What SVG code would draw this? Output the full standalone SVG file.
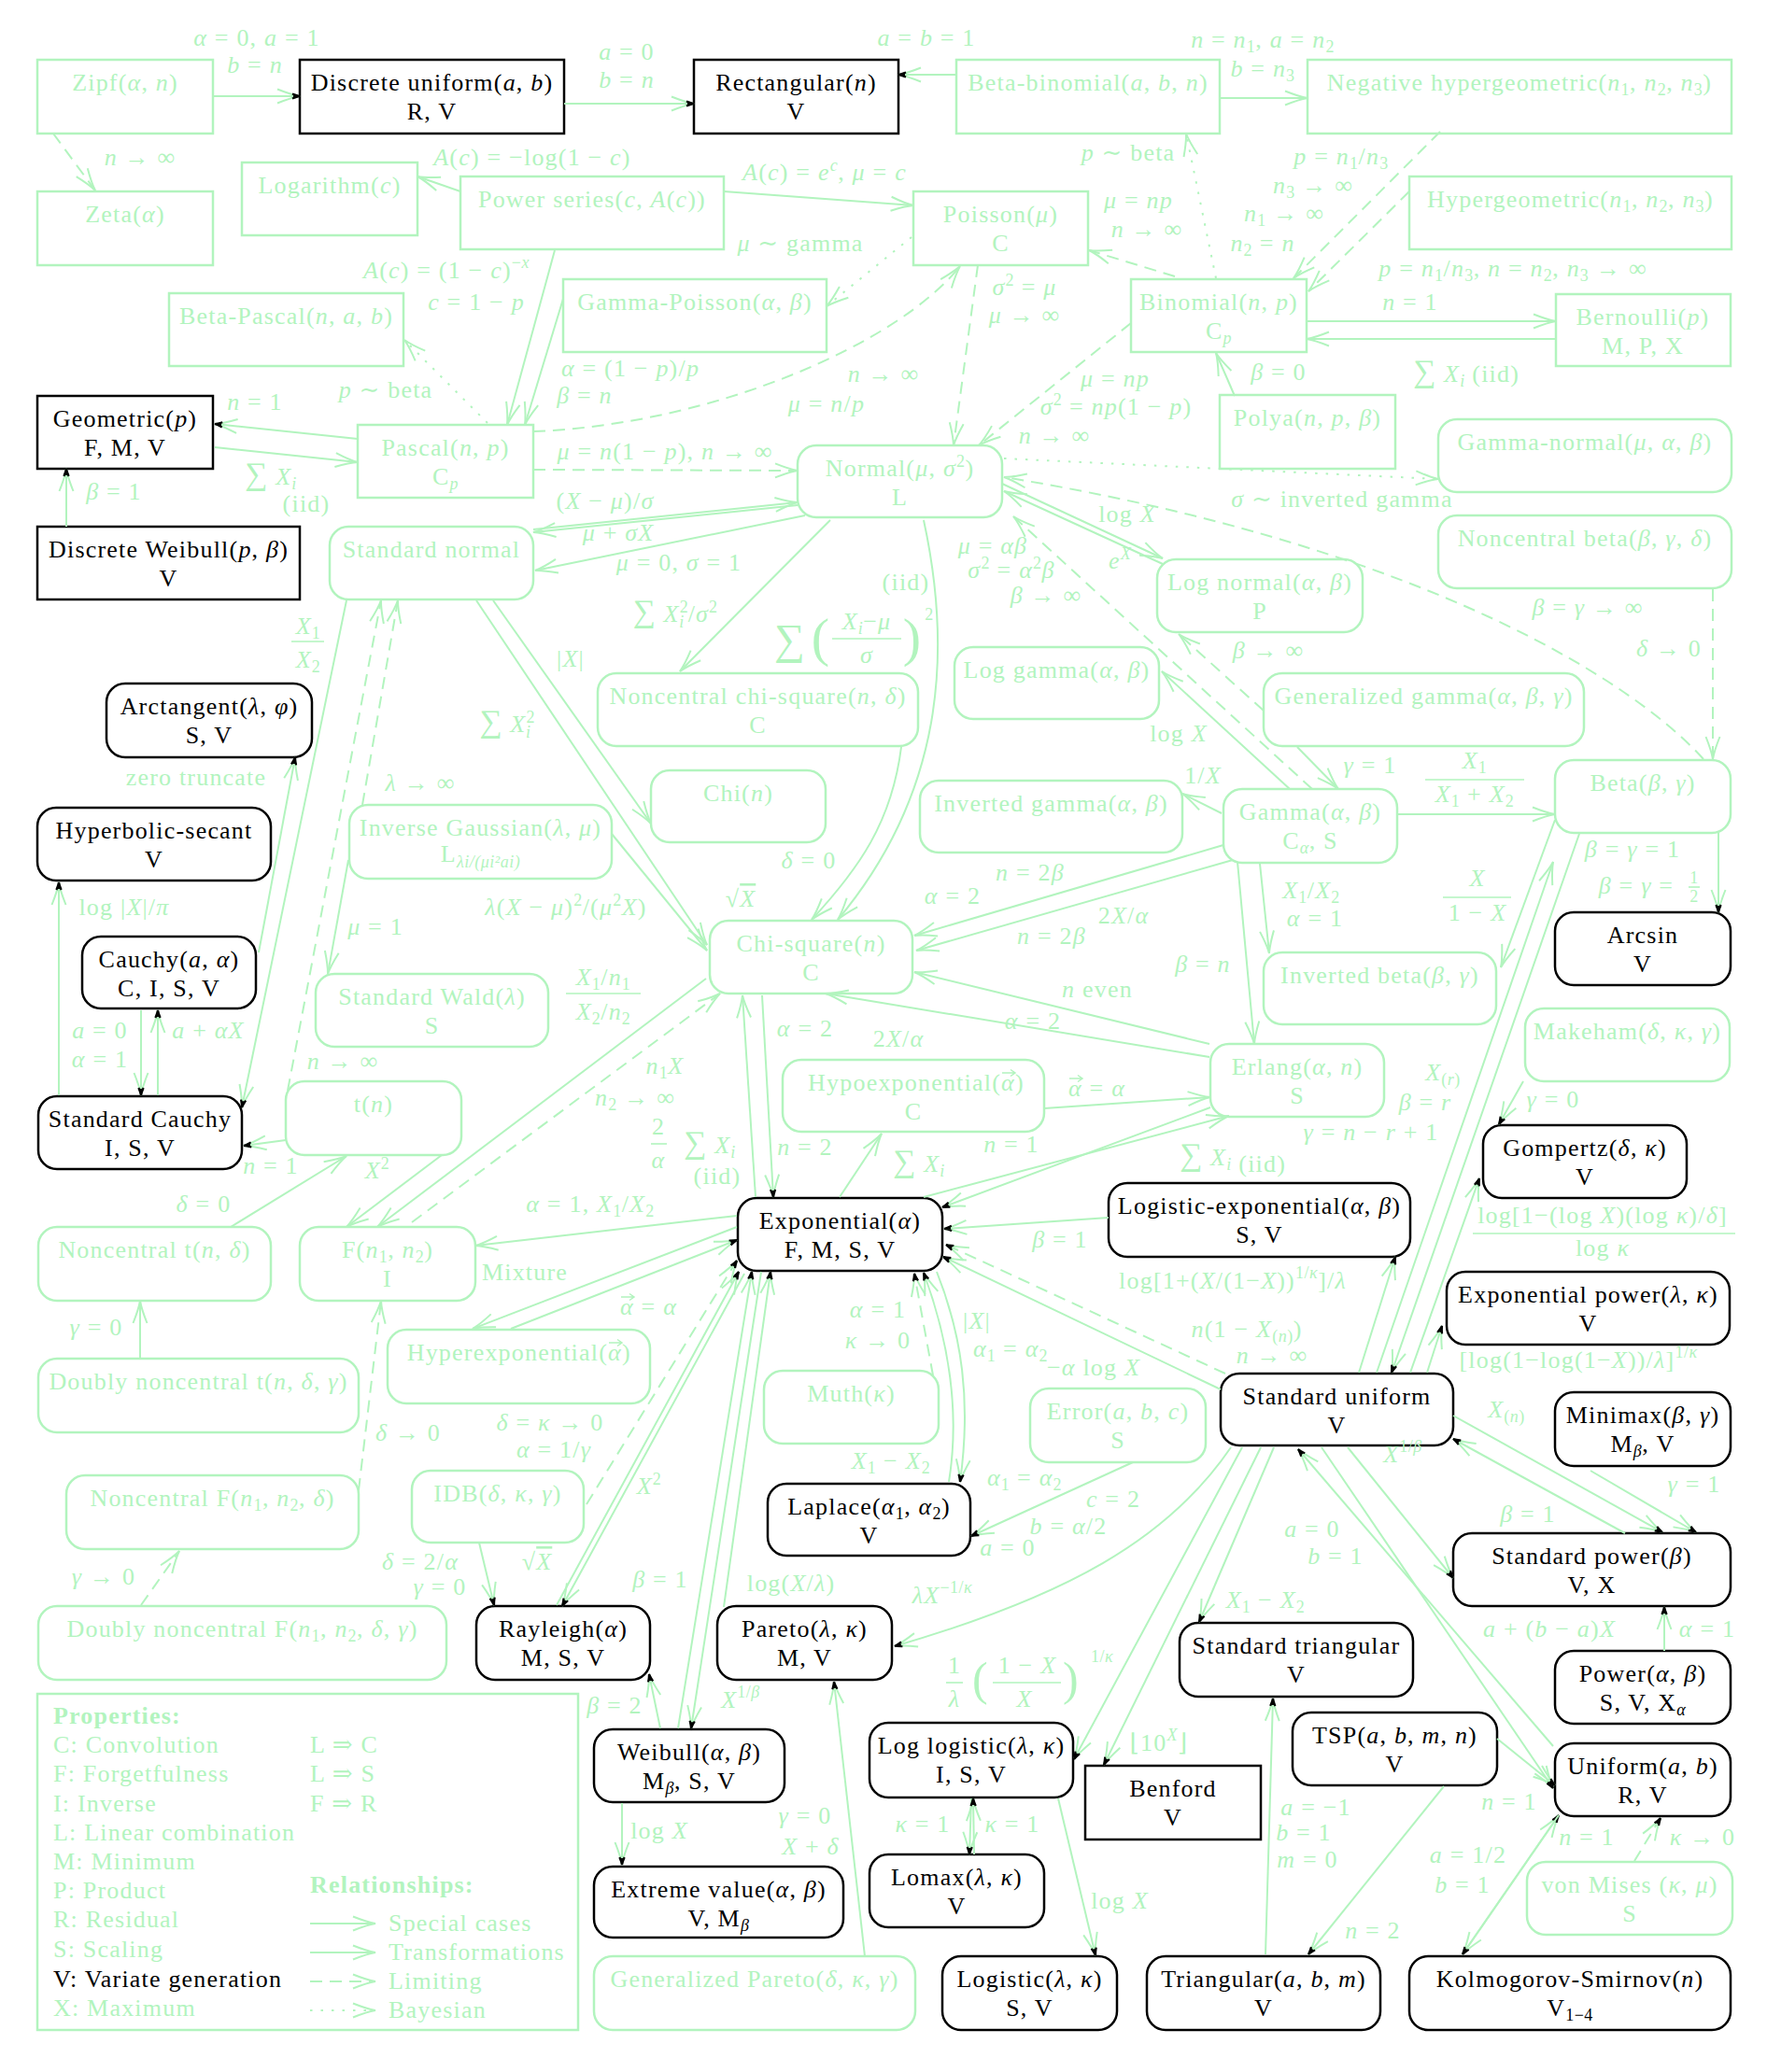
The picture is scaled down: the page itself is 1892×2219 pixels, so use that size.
<svg xmlns="http://www.w3.org/2000/svg" width="1892" height="2219" viewBox="0 0 1892 2219">
<defs>
<style>
.n{fill:none;stroke:#b2f4be;stroke-width:2.5}
.nk{fill:none;stroke:#000;stroke-width:2.5}
.e path{fill:none;stroke:#b2f4be;stroke-width:2;marker-end:url(#ag)}
.e path.k{marker-end:url(#ak)}
.e path.d{stroke-dasharray:13 8}
.e path.o{stroke-dasharray:2.5 9}
text{font-family:"Liberation Serif","Times New Roman","DejaVu Serif",serif;font-size:26px;letter-spacing:1.2px}
.G{fill:#b2f4be}
.K{fill:#000}
.m{text-anchor:middle}
.st{text-anchor:start}
.en{text-anchor:end}
.i{font-style:italic}
.s{font-size:18px;letter-spacing:0.5px}
.b{font-weight:bold}
.fr{stroke:#b2f4be;stroke-width:1.6}
.vec{fill:none;stroke:#b2f4be;stroke-width:1.5}
</style>
<marker id="ag" markerUnits="userSpaceOnUse" orient="auto" markerWidth="30" markerHeight="20" viewBox="-27 -10 30 20" refX="0" refY="0" overflow="visible">
<path d="M-24,-7.5 Q-9,-1.5 0,0 Q-9,1.5 -24,7.5" fill="none" stroke="#b2f4be" stroke-width="2"/>
</marker>
<marker id="ak" markerUnits="userSpaceOnUse" orient="auto" markerWidth="30" markerHeight="20" viewBox="-27 -10 30 20" refX="0" refY="0" overflow="visible">
<path d="M-24,-7.5 Q-9,-1.5 0,0 Q-9,1.5 -24,7.5" fill="none" stroke="#b2f4be" stroke-width="2"/>
<path d="M-8,-2.6 Q-3,-0.6 0,0 Q-3,0.6 -8,2.6 M-7,0 L0,0" fill="none" stroke="#000" stroke-width="2.2"/>
</marker>
</defs>
<rect x="0" y="0" width="1892" height="2219" fill="#fff"/>

<!-- discrete distributions (square boxes) -->
<g id="zipf"><rect class="n" x="40" y="64" width="188" height="79"/><text class="G m" x="134" y="97">Zipf(<tspan class="i">α</tspan>, <tspan class="i">n</tspan>)</text></g>
<g id="discrete-uniform"><rect class="nk" x="321" y="64" width="283" height="79"/><text class="K m" x="462.5" y="97">Discrete uniform(<tspan class="i">a</tspan>, <tspan class="i">b</tspan>)</text><text class="K m" x="462.5" y="128">R, V</text></g>
<g id="rectangular"><rect class="nk" x="743" y="64" width="219" height="79"/><text class="K m" x="852.5" y="97">Rectangular(<tspan class="i">n</tspan>)</text><text class="K m" x="852.5" y="128">V</text></g>
<g id="beta-binomial"><rect class="n" x="1024" y="64" width="282" height="79"/><text class="G m" x="1165" y="97">Beta-binomial(<tspan class="i">a</tspan>, <tspan class="i">b</tspan>, <tspan class="i">n</tspan>)</text></g>
<g id="neg-hypergeometric"><rect class="n" x="1400" y="64" width="454" height="79"/><text class="G m" x="1627" y="97">Negative hypergeometric(<tspan class="i">n</tspan><tspan class="s" dy="5">1</tspan><tspan dy="-5">, </tspan><tspan class="i">n</tspan><tspan class="s" dy="5">2</tspan><tspan dy="-5">, </tspan><tspan class="i">n</tspan><tspan class="s" dy="5">3</tspan><tspan dy="-5">)</tspan></text></g>
<g id="zeta"><rect class="n" x="40" y="205" width="188" height="79"/><text class="G m" x="134" y="238">Zeta(<tspan class="i">α</tspan>)</text></g>
<g id="logarithm"><rect class="n" x="259" y="174" width="188" height="78"/><text class="G m" x="353" y="207">Logarithm(<tspan class="i">c</tspan>)</text></g>
<g id="power-series"><rect class="n" x="493" y="189" width="282" height="78"/><text class="G m" x="634" y="222">Power series(<tspan class="i">c</tspan>, <tspan class="i">A</tspan>(<tspan class="i">c</tspan>))</text></g>
<g id="poisson"><rect class="n" x="978" y="205" width="187" height="79"/><text class="G m" x="1071.5" y="238">Poisson(<tspan class="i">μ</tspan>)</text><text class="G m" x="1071.5" y="269">C</text></g>
<g id="hypergeometric"><rect class="n" x="1509" y="189" width="345" height="78"/><text class="G m" x="1681.5" y="222">Hypergeometric(<tspan class="i">n</tspan><tspan class="s" dy="5">1</tspan><tspan dy="-5">, </tspan><tspan class="i">n</tspan><tspan class="s" dy="5">2</tspan><tspan dy="-5">, </tspan><tspan class="i">n</tspan><tspan class="s" dy="5">3</tspan><tspan dy="-5">)</tspan></text></g>
<g id="beta-pascal"><rect class="n" x="181" y="314" width="251" height="78"/><text class="G m" x="306.5" y="347">Beta-Pascal(<tspan class="i">n</tspan>, <tspan class="i">a</tspan>, <tspan class="i">b</tspan>)</text></g>
<g id="gamma-poisson"><rect class="n" x="603" y="299" width="282" height="78"/><text class="G m" x="744" y="332">Gamma-Poisson(<tspan class="i">α</tspan>, <tspan class="i">β</tspan>)</text></g>
<g id="binomial"><rect class="n" x="1211" y="299" width="188" height="78"/><text class="G m" x="1305" y="332">Binomial(<tspan class="i">n</tspan>, <tspan class="i">p</tspan>)</text><text class="G m" x="1305" y="363">C<tspan class="s i" dy="5">p</tspan></text></g>
<g id="bernoulli"><rect class="n" x="1666" y="315" width="187" height="77"/><text class="G m" x="1759" y="348">Bernoulli(<tspan class="i">p</tspan>)</text><text class="G m" x="1759" y="379">M, P, X</text></g>
<g id="geometric"><rect class="nk" x="40" y="424" width="188" height="78"/><text class="K m" x="134" y="457">Geometric(<tspan class="i">p</tspan>)</text><text class="K m" x="134" y="488">F, M, V</text></g>
<g id="pascal"><rect class="n" x="383" y="455" width="188" height="78"/><text class="G m" x="477" y="488">Pascal(<tspan class="i">n</tspan>, <tspan class="i">p</tspan>)</text><text class="G m" x="477" y="519">C<tspan class="s i" dy="5">p</tspan></text></g>
<g id="polya"><rect class="n" x="1306" y="423" width="188" height="79"/><text class="G m" x="1400" y="456">Polya(<tspan class="i">n</tspan>, <tspan class="i">p</tspan>, <tspan class="i">β</tspan>)</text></g>
<g id="discrete-weibull"><rect class="nk" x="40" y="564" width="281" height="78"/><text class="K m" x="180.5" y="597">Discrete Weibull(<tspan class="i">p</tspan>, <tspan class="i">β</tspan>)</text><text class="K m" x="180.5" y="628">V</text></g>
<g id="benford"><rect class="nk" x="1162" y="1891" width="188" height="79"/><text class="K m" x="1256" y="1924">Benford</text><text class="K m" x="1256" y="1955">V</text></g>

<!-- continuous distributions (rounded boxes) -->
<g id="gamma-normal"><rect class="n" x="1540" y="449" width="314" height="78" rx="20"/><text class="G m" x="1697" y="482">Gamma-normal(<tspan class="i">μ</tspan>, <tspan class="i">α</tspan>, <tspan class="i">β</tspan>)</text></g>
<g id="normal"><rect class="n" x="854" y="477" width="219" height="77" rx="20"/><text class="G m" x="963.5" y="510">Normal(<tspan class="i">μ</tspan>, <tspan class="i">σ</tspan><tspan class="s" dy="-10">2</tspan><tspan dy="10">)</tspan></text><text class="G m" x="963.5" y="541">L</text></g>
<g id="standard-normal"><rect class="n" x="353" y="564" width="218" height="78" rx="20"/><text class="G m" x="462" y="597">Standard normal</text></g>
<g id="noncentral-beta"><rect class="n" x="1540" y="552" width="314" height="78" rx="20"/><text class="G m" x="1697" y="585">Noncentral beta(<tspan class="i">β</tspan>, <tspan class="i">γ</tspan>, <tspan class="i">δ</tspan>)</text></g>
<g id="log-normal"><rect class="n" x="1239" y="599" width="220" height="78" rx="20"/><text class="G m" x="1349" y="632">Log normal(<tspan class="i">α</tspan>, <tspan class="i">β</tspan>)</text><text class="G m" x="1349" y="663">P</text></g>
<g id="log-gamma"><rect class="n" x="1022" y="693" width="219" height="77" rx="20"/><text class="G m" x="1131.5" y="726">Log gamma(<tspan class="i">α</tspan>, <tspan class="i">β</tspan>)</text></g>
<g id="generalized-gamma"><rect class="n" x="1353" y="721" width="343" height="78" rx="20"/><text class="G m" x="1524.5" y="754">Generalized gamma(<tspan class="i">α</tspan>, <tspan class="i">β</tspan>, <tspan class="i">γ</tspan>)</text></g>
<g id="noncentral-chi-square"><rect class="n" x="640" y="721" width="343" height="78" rx="20"/><text class="G m" x="811.5" y="754">Noncentral chi-square(<tspan class="i">n</tspan>, <tspan class="i">δ</tspan>)</text><text class="G m" x="811.5" y="785">C</text></g>
<g id="arctangent"><rect class="nk" x="114" y="732" width="220" height="79" rx="20"/><text class="K m" x="224" y="765">Arctangent(<tspan class="i">λ</tspan>, <tspan class="i">φ</tspan>)</text><text class="K m" x="224" y="796">S, V</text></g>
<g id="chi"><rect class="n" x="697" y="825" width="187" height="77" rx="20"/><text class="G m" x="790.5" y="858">Chi(<tspan class="i">n</tspan>)</text></g>
<g id="inverted-gamma"><rect class="n" x="985" y="836" width="281" height="77" rx="20"/><text class="G m" x="1125.5" y="869">Inverted gamma(<tspan class="i">α</tspan>, <tspan class="i">β</tspan>)</text></g>
<g id="gamma"><rect class="n" x="1310" y="845" width="186" height="79" rx="20"/><text class="G m" x="1403" y="878">Gamma(<tspan class="i">α</tspan>, <tspan class="i">β</tspan>)</text><text class="G m" x="1403" y="909">C<tspan class="s i" dy="5">α</tspan><tspan dy="-5">, S</tspan></text></g>
<g id="beta"><rect class="n" x="1665" y="814" width="188" height="78" rx="20"/><text class="G m" x="1759" y="847">Beta(<tspan class="i">β</tspan>, <tspan class="i">γ</tspan>)</text></g>
<g id="hyperbolic-secant"><rect class="nk" x="40" y="865" width="250" height="78" rx="20"/><text class="K m" x="165" y="898">Hyperbolic-secant</text><text class="K m" x="165" y="929">V</text></g>
<g id="inverse-gaussian"><rect class="n" x="374" y="862" width="281" height="79" rx="20"/><text class="G m" x="514.5" y="895">Inverse Gaussian(<tspan class="i">λ</tspan>, <tspan class="i">μ</tspan>)</text><text class="G m" x="514.5" y="923">L<tspan class="s i" dy="6">λi/(μi²ai)</tspan></text></g>
<g id="chi-square"><rect class="n" x="760" y="986" width="217" height="78" rx="20"/><text class="G m" x="868.5" y="1019">Chi-square(<tspan class="i">n</tspan>)</text><text class="G m" x="868.5" y="1050">C</text></g>
<g id="arcsin"><rect class="nk" x="1665" y="977" width="188" height="78" rx="20"/><text class="K m" x="1759" y="1010">Arcsin</text><text class="K m" x="1759" y="1041">V</text></g>
<g id="cauchy"><rect class="nk" x="88" y="1003" width="186" height="77" rx="20"/><text class="K m" x="181" y="1036">Cauchy(<tspan class="i">a</tspan>, <tspan class="i">α</tspan>)</text><text class="K m" x="181" y="1067">C, I, S, V</text></g>
<g id="standard-wald"><rect class="n" x="338" y="1043" width="249" height="78" rx="20"/><text class="G m" x="462.5" y="1076">Standard Wald(<tspan class="i">λ</tspan>)</text><text class="G m" x="462.5" y="1107">S</text></g>
<g id="inverted-beta"><rect class="n" x="1353" y="1020" width="249" height="77" rx="20"/><text class="G m" x="1477.5" y="1053">Inverted beta(<tspan class="i">β</tspan>, <tspan class="i">γ</tspan>)</text></g>
<g id="makeham"><rect class="n" x="1633" y="1080" width="219" height="78" rx="20"/><text class="G m" x="1742.5" y="1113">Makeham(<tspan class="i">δ</tspan>, <tspan class="i">κ</tspan>, <tspan class="i">γ</tspan>)</text></g>
<g id="erlang"><rect class="n" x="1296" y="1118" width="186" height="78" rx="20"/><text class="G m" x="1389" y="1151">Erlang(<tspan class="i">α</tspan>, <tspan class="i">n</tspan>)</text><text class="G m" x="1389" y="1182">S</text></g>
<g id="hypoexponential"><rect class="n" x="838" y="1135" width="280" height="77" rx="20"/><text class="G en" x="1072" y="1168">Hypoexponential(</text><text class="G st i" x="1072" y="1168">α</text><text class="G st" x="1087" y="1168">)</text><path class="vec" d="M1073,1149 H1087 M1082,1145.5 L1087,1149 L1082,1152.5"/><text class="G m" x="978" y="1199">C</text></g>
<g id="standard-cauchy"><rect class="nk" x="41" y="1174" width="218" height="78" rx="20"/><text class="K m" x="150" y="1207">Standard Cauchy</text><text class="K m" x="150" y="1238">I, S, V</text></g>
<g id="t"><rect class="n" x="306" y="1158" width="188" height="79" rx="20"/><text class="G m" x="400" y="1191">t(<tspan class="i">n</tspan>)</text></g>
<g id="gompertz"><rect class="nk" x="1588" y="1205" width="218" height="78" rx="20"/><text class="K m" x="1697" y="1238">Gompertz(<tspan class="i">δ</tspan>, <tspan class="i">κ</tspan>)</text><text class="K m" x="1697" y="1269">V</text></g>
<g id="exponential"><rect class="nk" x="790" y="1283" width="219" height="78" rx="20"/><text class="K m" x="899.5" y="1316">Exponential(<tspan class="i">α</tspan>)</text><text class="K m" x="899.5" y="1347">F, M, S, V</text></g>
<g id="logistic-exponential"><rect class="nk" x="1187" y="1267" width="323" height="79" rx="20"/><text class="K m" x="1348.5" y="1300">Logistic-exponential(<tspan class="i">α</tspan>, <tspan class="i">β</tspan>)</text><text class="K m" x="1348.5" y="1331">S, V</text></g>
<g id="noncentral-t"><rect class="n" x="41" y="1314" width="249" height="79" rx="20"/><text class="G m" x="165.5" y="1347">Noncentral t(<tspan class="i">n</tspan>, <tspan class="i">δ</tspan>)</text></g>
<g id="f"><rect class="n" x="321" y="1314" width="188" height="79" rx="20"/><text class="G m" x="415" y="1347">F(<tspan class="i">n</tspan><tspan class="s" dy="5">1</tspan><tspan dy="-5">, </tspan><tspan class="i">n</tspan><tspan class="s" dy="5">2</tspan><tspan dy="-5">)</tspan></text><text class="G m" x="415" y="1378">I</text></g>
<g id="exponential-power"><rect class="nk" x="1549" y="1362" width="303" height="78" rx="20"/><text class="K m" x="1700.5" y="1395">Exponential power(<tspan class="i">λ</tspan>, <tspan class="i">κ</tspan>)</text><text class="K m" x="1700.5" y="1426">V</text></g>
<g id="hyperexponential"><rect class="n" x="415" y="1424" width="281" height="79" rx="20"/><text class="G en" x="651" y="1457">Hyperexponential(</text><text class="G st i" x="651" y="1457">α</text><text class="G st" x="666" y="1457">)</text><path class="vec" d="M652,1438 H666 M661,1434.5 L666,1438 L661,1441.5"/></g>
<g id="doubly-noncentral-t"><rect class="n" x="41" y="1455" width="343" height="79" rx="20"/><text class="G m" x="212.5" y="1488">Doubly noncentral t(<tspan class="i">n</tspan>, <tspan class="i">δ</tspan>, <tspan class="i">γ</tspan>)</text></g>
<g id="muth"><rect class="n" x="818" y="1468" width="187" height="78" rx="20"/><text class="G m" x="911.5" y="1501">Muth(<tspan class="i">κ</tspan>)</text></g>
<g id="standard-uniform"><rect class="nk" x="1307" y="1471" width="249" height="77" rx="20"/><text class="K m" x="1431.5" y="1504">Standard uniform</text><text class="K m" x="1431.5" y="1535">V</text></g>
<g id="error"><rect class="n" x="1103" y="1487" width="188" height="79" rx="20"/><text class="G m" x="1197" y="1520">Error(<tspan class="i">a</tspan>, <tspan class="i">b</tspan>, <tspan class="i">c</tspan>)</text><text class="G m" x="1197" y="1551">S</text></g>
<g id="minimax"><rect class="nk" x="1665" y="1491" width="188" height="79" rx="20"/><text class="K m" x="1759" y="1524">Minimax(<tspan class="i">β</tspan>, <tspan class="i">γ</tspan>)</text><text class="K m" x="1759" y="1555">M<tspan class="s i" dy="5">β</tspan><tspan dy="-5">, V</tspan></text></g>
<g id="noncentral-f"><rect class="n" x="71" y="1580" width="313" height="79" rx="20"/><text class="G m" x="227.5" y="1613">Noncentral F(<tspan class="i">n</tspan><tspan class="s" dy="5">1</tspan><tspan dy="-5">, </tspan><tspan class="i">n</tspan><tspan class="s" dy="5">2</tspan><tspan dy="-5">, </tspan><tspan class="i">δ</tspan>)</text></g>
<g id="idb"><rect class="n" x="441" y="1575" width="184" height="77" rx="20"/><text class="G m" x="533" y="1608">IDB(<tspan class="i">δ</tspan>, <tspan class="i">κ</tspan>, <tspan class="i">γ</tspan>)</text></g>
<g id="laplace"><rect class="nk" x="822" y="1589" width="217" height="77" rx="20"/><text class="K m" x="930.5" y="1622">Laplace(<tspan class="i">α</tspan><tspan class="s" dy="5">1</tspan><tspan dy="-5">, </tspan><tspan class="i">α</tspan><tspan class="s" dy="5">2</tspan><tspan dy="-5">)</tspan></text><text class="K m" x="930.5" y="1653">V</text></g>
<g id="standard-power"><rect class="nk" x="1556" y="1642" width="297" height="78" rx="20"/><text class="K m" x="1704.5" y="1675">Standard power(<tspan class="i">β</tspan>)</text><text class="K m" x="1704.5" y="1706">V, X</text></g>
<g id="doubly-noncentral-f"><rect class="n" x="41" y="1720" width="437" height="79" rx="20"/><text class="G m" x="259.5" y="1753">Doubly noncentral F(<tspan class="i">n</tspan><tspan class="s" dy="5">1</tspan><tspan dy="-5">, </tspan><tspan class="i">n</tspan><tspan class="s" dy="5">2</tspan><tspan dy="-5">, </tspan><tspan class="i">δ</tspan>, <tspan class="i">γ</tspan>)</text></g>
<g id="rayleigh"><rect class="nk" x="510" y="1720" width="186" height="79" rx="20"/><text class="K m" x="603" y="1753">Rayleigh(<tspan class="i">α</tspan>)</text><text class="K m" x="603" y="1784">M, S, V</text></g>
<g id="pareto"><rect class="nk" x="768" y="1720" width="187" height="79" rx="20"/><text class="K m" x="861.5" y="1753">Pareto(<tspan class="i">λ</tspan>, <tspan class="i">κ</tspan>)</text><text class="K m" x="861.5" y="1784">M, V</text></g>
<g id="standard-triangular"><rect class="nk" x="1263" y="1738" width="250" height="79" rx="20"/><text class="K m" x="1388" y="1771">Standard triangular</text><text class="K m" x="1388" y="1802">V</text></g>
<g id="power"><rect class="nk" x="1665" y="1768" width="188" height="78" rx="20"/><text class="K m" x="1759" y="1801">Power(<tspan class="i">α</tspan>, <tspan class="i">β</tspan>)</text><text class="K m" x="1759" y="1832">S, V, X<tspan class="s i" dy="5">α</tspan></text></g>
<g id="weibull"><rect class="nk" x="636" y="1852" width="204" height="78" rx="20"/><text class="K m" x="738" y="1885">Weibull(<tspan class="i">α</tspan>, <tspan class="i">β</tspan>)</text><text class="K m" x="738" y="1916">M<tspan class="s i" dy="5">β</tspan><tspan dy="-5">, S, V</tspan></text></g>
<g id="log-logistic"><rect class="nk" x="931" y="1845" width="218" height="80" rx="20"/><text class="K m" x="1040" y="1878">Log logistic(<tspan class="i">λ</tspan>, <tspan class="i">κ</tspan>)</text><text class="K m" x="1040" y="1909">I, S, V</text></g>
<g id="tsp"><rect class="nk" x="1384" y="1834" width="219" height="78" rx="20"/><text class="K m" x="1493.5" y="1867">TSP(<tspan class="i">a</tspan>, <tspan class="i">b</tspan>, <tspan class="i">m</tspan>, <tspan class="i">n</tspan>)</text><text class="K m" x="1493.5" y="1898">V</text></g>
<g id="uniform"><rect class="nk" x="1665" y="1867" width="188" height="78" rx="20"/><text class="K m" x="1759" y="1900">Uniform(<tspan class="i">a</tspan>, <tspan class="i">b</tspan>)</text><text class="K m" x="1759" y="1931">R, V</text></g>
<g id="extreme-value"><rect class="nk" x="636" y="1999" width="267" height="76" rx="20"/><text class="K m" x="769.5" y="2032">Extreme value(<tspan class="i">α</tspan>, <tspan class="i">β</tspan>)</text><text class="K m" x="769.5" y="2063">V, M<tspan class="s i" dy="5">β</tspan></text></g>
<g id="lomax"><rect class="nk" x="931" y="1986" width="187" height="78" rx="20"/><text class="K m" x="1024.5" y="2019">Lomax(<tspan class="i">λ</tspan>, <tspan class="i">κ</tspan>)</text><text class="K m" x="1024.5" y="2050">V</text></g>
<g id="von-mises"><rect class="n" x="1635" y="1994" width="220" height="78" rx="20"/><text class="G m" x="1745" y="2027">von Mises (<tspan class="i">κ</tspan>, <tspan class="i">μ</tspan>)</text><text class="G m" x="1745" y="2058">S</text></g>
<g id="generalized-pareto"><rect class="n" x="636" y="2095" width="344" height="79" rx="20"/><text class="G m" x="808" y="2128">Generalized Pareto(<tspan class="i">δ</tspan>, <tspan class="i">κ</tspan>, <tspan class="i">γ</tspan>)</text></g>
<g id="logistic"><rect class="nk" x="1009" y="2095" width="187" height="79" rx="20"/><text class="K m" x="1102.5" y="2128">Logistic(<tspan class="i">λ</tspan>, <tspan class="i">κ</tspan>)</text><text class="K m" x="1102.5" y="2159">S, V</text></g>
<g id="triangular"><rect class="nk" x="1228" y="2095" width="250" height="79" rx="20"/><text class="K m" x="1353" y="2128">Triangular(<tspan class="i">a</tspan>, <tspan class="i">b</tspan>, <tspan class="i">m</tspan>)</text><text class="K m" x="1353" y="2159">V</text></g>
<g id="kolmogorov-smirnov"><rect class="nk" x="1509" y="2095" width="344" height="79" rx="20"/><text class="K m" x="1681" y="2128">Kolmogorov-Smirnov(<tspan class="i">n</tspan>)</text><text class="K m" x="1681" y="2159">V<tspan class="s" dy="5">1−4</tspan></text></g>

<!-- connectors -->
<g id="connectors" class="e">
<path class="k" d="M228,103 L321,103"/>
<path class="k" d="M604,111 L743,111"/>
<path class="k" d="M1024,80 L962,80"/>
<path d="M1306,105 L1400,105"/>
<path d="M493,205 L447,189"/>
<path d="M775,205 L978,220"/>
<path d="M594,268 L543,455"/>
<path d="M603,320 L562,455"/>
<path class="k" d="M383,470 L230,454"/>
<path d="M230,479 L383,495"/>
<path class="k" d="M71,564 L71,502"/>
<path d="M1399,344 L1666,344"/>
<path d="M1666,363 L1399,363"/>
<path d="M1322,424 L1302,378"/>
<path d="M571,567 L854,538"/>
<path d="M854,541 L571,570"/>
<path d="M862,552 L573,611"/>
<path d="M889,557 L728,719"/>
<path d="M989,557 C1020,700 1010,850 897,985"/>
<path d="M965,800 C955,880 920,930 869,985"/>
<path d="M510,643 L757,1012"/>
<path d="M528,643 L697,882"/>
<path d="M655,893 L757,1018"/>
<path d="M373,921 L351,1043"/>
<path class="k" d="M371,643 L259,1186"/>
<path class="k" d="M277,1020 L316,811"/>
<path class="k" d="M63,1173 L63,945"/>
<path class="k" d="M151,1082 L151,1173"/>
<path class="k" d="M169,1173 L169,1082"/>
<path class="k" d="M306,1221 L261,1227"/>
<path d="M247,1314 L371,1238"/>
<path d="M150,1455 L150,1393"/>
<path d="M473,1237 L371,1314"/>
<path d="M756,1048 L404,1314"/>
<path d="M809,1282 L795,1066"/>
<path class="k" d="M816,1066 L828,1282"/>
<path d="M899,1282 L944,1214"/>
<path d="M1118,1187 L1296,1175"/>
<path class="k" d="M1296,1186 L1009,1293"/>
<path d="M989,1282 L1316,1195"/>
<path d="M1295,1118 L979,1041"/>
<path d="M1295,1132 L884,1064"/>
<path d="M1310,905 L979,1002"/>
<path d="M1320,921 L981,1018"/>
<path d="M1325,923 L1343,1118"/>
<path d="M1349,925 L1359,1021"/>
<path d="M1496,872 L1665,872"/>
<path d="M1665,878 L1607,1036"/>
<path d="M1389,800 L1433,845"/>
<path d="M1308,871 L1266,850"/>
<path d="M1381,845 L1244,719"/>
<path d="M1073,518 L1245,598"/>
<path d="M1245,604 L1075,526"/>
<path class="k" d="M1840,892 L1840,977"/>
<path d="M1474,1470 L1663,923"/>
<path class="k" d="M1691,893 L1490,1470"/>
<path class="k" d="M1455,1470 L1494,1346"/>
<path class="k" d="M1510,1470 L1584,1262"/>
<path class="k" d="M1528,1470 L1544,1420"/>
<path class="k" d="M1631,1158 L1605,1204"/>
<path class="k" d="M1307,1488 L1010,1346"/>
<path class="k" d="M1187,1304 L1011,1316"/>
<path class="k" d="M1016,1587 C1030,1500 1010,1420 989,1363"/>
<path class="k" d="M1003,1362 C1030,1430 1040,1500 1028,1587"/>
<path class="k" d="M1213,1566 L1040,1645"/>
<path class="k" d="M1318,1550 C1250,1650 1140,1710 958,1763"/>
<path class="k" d="M1330,1550 L1150,1884"/>
<path class="k" d="M1350,1550 L1182,1890"/>
<path class="k" d="M1364,1550 L1284,1737"/>
<path class="k" d="M1663,1870 L1390,1552"/>
<path class="k" d="M1415,1550 L1663,1915"/>
<path class="k" d="M1443,1550 L1556,1690"/>
<path class="k" d="M1556,1516 L1780,1641"/>
<path class="k" d="M1740,1642 L1556,1541"/>
<path class="k" d="M1703,1575 L1816,1641"/>
<path class="k" d="M1782,1768 L1782,1721"/>
<path class="k" d="M1546,1913 L1401,2093"/>
<path class="k" d="M1355,2093 L1363,1819"/>
<path class="k" d="M1566,2093 L1669,1944"/>
<path class="k" d="M1669,1944 L1566,2093"/>
<path class="k" d="M1603,1862 L1665,1912"/>
<path class="k" d="M707,1851 L695,1793"/>
<path class="k" d="M726,1851 L805,1362"/>
<path class="k" d="M815,1362 L740,1851"/>
<path class="k" d="M775,1721 L825,1362"/>
<path class="k" d="M596,1719 L791,1362"/>
<path class="k" d="M797,1364 L602,1720"/>
<path class="k" d="M513,1652 L529,1719"/>
<path d="M789,1314 L506,1423"/>
<path class="k" d="M547,1423 L789,1328"/>
<path d="M789,1302 L509,1334"/>
<path class="k" d="M926,2095 L893,1801"/>
<path class="k" d="M666,1931 L666,1997"/>
<path class="k" d="M1040,1926 L1038,1986"/>
<path class="k" d="M1043,1986 L1042,1926"/>
<path class="k" d="M1133,1926 L1173,2094"/>
<path class="d" d="M57,143 L102,204"/>
<path class="d" d="M571,462 C760,455 960,370 1028,285"/>
<path class="d" d="M571,503 L854,504"/>
<path class="d" d="M1258,296 L1166,268"/>
<path class="d" d="M1047,284 L1021,477"/>
<path class="d" d="M1211,346 L1048,477"/>
<path class="d" d="M1542,141 L1385,298"/>
<path class="d" d="M1509,205 L1401,312"/>
<path class="d" d="M1824,813 C1740,720 1500,580 1075,511"/>
<path class="d" d="M1834,631 L1834,813"/>
<path class="d" d="M388,862 L426,643"/>
<path class="d" d="M308,1168 L408,643"/>
<path class="d" d="M441,1309 L771,1064"/>
<path class="d" d="M1405,845 L1085,553"/>
<path class="d" d="M1353,761 L1262,679"/>
<path class="d k" d="M1312,1471 L1013,1333"/>
<path class="d k" d="M999,1473 L979,1364"/>
<path class="d k" d="M628,1611 L789,1350"/>
<path class="d" d="M384,1596 L408,1393"/>
<path class="d" d="M151,1719 L192,1661"/>
<path class="d k" d="M1750,1993 L1778,1947"/>
<path class="o" d="M976,254 L885,328"/>
<path class="o" d="M522,453 L433,364"/>
<path class="o" d="M1302,298 L1270,143"/>
<path class="o" d="M1075,491 L1540,513"/>
</g>

<!-- connector labels -->
<g id="labels" class="G m">
<text x="275" y="49"><tspan class="i">α</tspan> = 0, <tspan class="i">a</tspan> = 1</text>
<text x="273" y="78"><tspan class="i">b</tspan> = <tspan class="i">n</tspan></text>
<text x="671" y="64"><tspan class="i">a</tspan> = 0</text>
<text x="671" y="94"><tspan class="i">b</tspan> = <tspan class="i">n</tspan></text>
<text x="992" y="49"><tspan class="i">a</tspan> = <tspan class="i">b</tspan> = 1</text>
<text x="1352" y="51"><tspan class="i">n</tspan> = <tspan class="i">n</tspan><tspan class="s" dy="5">1</tspan><tspan dy="-5">, </tspan><tspan class="i">a</tspan> = <tspan class="i">n</tspan><tspan class="s" dy="5">2</tspan></text>
<text x="1352" y="82"><tspan class="i">b</tspan> = <tspan class="i">n</tspan><tspan class="s" dy="5">3</tspan></text>
<text x="150" y="177"><tspan class="i">n</tspan> → ∞</text>
<text x="570" y="177"><tspan class="i">A</tspan>(<tspan class="i">c</tspan>) = −log(1 − <tspan class="i">c</tspan>)</text>
<text x="883" y="193"><tspan class="i">A</tspan>(<tspan class="i">c</tspan>) = <tspan class="i">e</tspan><tspan class="s i" dy="-10">c</tspan><tspan dy="10">, </tspan><tspan class="i">μ</tspan> = <tspan class="i">c</tspan></text>
<text x="857" y="269"><tspan class="i">μ</tspan> ∼ gamma</text>
<text x="478" y="298"><tspan class="i">A</tspan>(<tspan class="i">c</tspan>) = (1 − <tspan class="i">c</tspan>)<tspan class="s" dy="-11">−</tspan><tspan class="s i">x</tspan></text>
<text x="510" y="332"><tspan class="i">c</tspan> = 1 − <tspan class="i">p</tspan></text>
<text x="413" y="426"><tspan class="i">p</tspan> ∼ beta</text>
<text x="273" y="439"><tspan class="i">n</tspan> = 1</text>
<text x="290" y="519"><tspan style="font-size:34px">∑</tspan> <tspan class="i">X</tspan><tspan class="s i" dy="5">i</tspan></text>
<text x="328" y="548">(iid)</text>
<text x="122" y="535"><tspan class="i">β</tspan> = 1</text>
<text x="675" y="403"><tspan class="i">α</tspan> = (1 − <tspan class="i">p</tspan>)/<tspan class="i">p</tspan></text>
<text x="626" y="432"><tspan class="i">β</tspan> = <tspan class="i">n</tspan></text>
<text x="946" y="409"><tspan class="i">n</tspan> → ∞</text>
<text x="885" y="441"><tspan class="i">μ</tspan> = <tspan class="i">n</tspan>/<tspan class="i">p</tspan></text>
<text x="712" y="492"><tspan class="i">μ</tspan> = <tspan class="i">n</tspan>(1 − <tspan class="i">p</tspan>), <tspan class="i">n</tspan> → ∞</text>
<text x="1097" y="316"><tspan class="i">σ</tspan><tspan class="s" dy="-10">2</tspan><tspan dy="10"> = </tspan><tspan class="i">μ</tspan></text>
<text x="1097" y="346"><tspan class="i">μ</tspan> → ∞</text>
<text x="1219" y="223"><tspan class="i">μ</tspan> = <tspan class="i">np</tspan></text>
<text x="1228" y="254"><tspan class="i">n</tspan> → ∞</text>
<text x="1208" y="172"><tspan class="i">p</tspan> ∼ beta</text>
<text x="1436" y="176"><tspan class="i">p</tspan> = <tspan class="i">n</tspan><tspan class="s" dy="5">1</tspan><tspan dy="-5">/</tspan><tspan class="i">n</tspan><tspan class="s" dy="5">3</tspan></text>
<text x="1406" y="207"><tspan class="i">n</tspan><tspan class="s" dy="5">3</tspan><tspan dy="-5"> → ∞</tspan></text>
<text x="1375" y="237"><tspan class="i">n</tspan><tspan class="s" dy="5">1</tspan><tspan dy="-5"> → ∞</tspan></text>
<text x="1352" y="269"><tspan class="i">n</tspan><tspan class="s" dy="5">2</tspan><tspan dy="-5"> = </tspan><tspan class="i">n</tspan></text>
<text x="1620" y="296"><tspan class="i">p</tspan> = <tspan class="i">n</tspan><tspan class="s" dy="5">1</tspan><tspan dy="-5">/</tspan><tspan class="i">n</tspan><tspan class="s" dy="5">3</tspan><tspan dy="-5">, </tspan><tspan class="i">n</tspan> = <tspan class="i">n</tspan><tspan class="s" dy="5">2</tspan><tspan dy="-5">, </tspan><tspan class="i">n</tspan><tspan class="s" dy="5">3</tspan><tspan dy="-5"> → ∞</tspan></text>
<text x="1510" y="332"><tspan class="i">n</tspan> = 1</text>
<text x="1570" y="409"><tspan style="font-size:34px">∑</tspan> <tspan class="i">X</tspan><tspan class="s i" dy="5">i</tspan><tspan dy="-5"> (iid)</tspan></text>
<text x="1369" y="407"><tspan class="i">β</tspan> = 0</text>
<text x="1194" y="414"><tspan class="i">μ</tspan> = <tspan class="i">np</tspan></text>
<text x="1195" y="444"><tspan class="i">σ</tspan><tspan class="s" dy="-10">2</tspan><tspan dy="10"> = </tspan><tspan class="i">np</tspan>(1 − <tspan class="i">p</tspan>)</text>
<text x="1129" y="475"><tspan class="i">n</tspan> → ∞</text>
<text x="1437" y="543"><tspan class="i">σ</tspan> ∼ inverted gamma</text>
<text x="1700" y="659"><tspan class="i">β</tspan> = <tspan class="i">γ</tspan> → ∞</text>
<text x="1787" y="703"><tspan class="i">δ</tspan> → 0</text>
<text x="648" y="545">(<tspan class="i">X</tspan> − <tspan class="i">μ</tspan>)/<tspan class="i">σ</tspan></text>
<text x="662" y="579"><tspan class="i">μ</tspan> + <tspan class="i">σX</tspan></text>
<text x="727" y="611"><tspan class="i">μ</tspan> = 0, <tspan class="i">σ</tspan> = 1</text>
<text x="1207" y="559">log <tspan class="i">X</tspan></text>
<text x="1199" y="609"><tspan class="i">e</tspan><tspan class="s i" dy="-10">X</tspan></text>
<text x="1063" y="593"><tspan class="i">μ</tspan> = <tspan class="i">αβ</tspan></text>
<text x="1083" y="619"><tspan class="i">σ</tspan><tspan class="s" dy="-10">2</tspan><tspan dy="10"> = </tspan><tspan class="i">α</tspan><tspan class="s" dy="-10">2</tspan><tspan class="i" dy="10">β</tspan></text>
<text x="1120" y="646"><tspan class="i">β</tspan> → ∞</text>
<text x="970" y="632">(iid)</text>
<text x="846" y="700" style="font-size:46px">∑</text>
<text x="879" y="702" style="font-size:58px">(</text>
<text x="928" y="674"><tspan class="i">X</tspan><tspan class="s i" dy="5">i</tspan><tspan dy="-5">−</tspan><tspan class="i">μ</tspan></text>
<line class="fr" x1="891" y1="684" x2="965" y2="684"/>
<text x="928" y="710" class="i">σ</text>
<text x="977" y="702" style="font-size:58px">)</text>
<text x="995" y="664" class="s">2</text>
<text x="723" y="666"><tspan style="font-size:34px">∑</tspan> <tspan class="i">X</tspan><tspan class="s" dy="-10">2</tspan><tspan class="s i" dx="-10" dy="16">i</tspan><tspan dx="4" dy="-6">/</tspan><tspan class="i">σ</tspan><tspan class="s" dy="-10">2</tspan></text>
<text x="611" y="714">|<tspan class="i">X</tspan>|</text>
<text x="543" y="784"><tspan style="font-size:34px">∑</tspan> <tspan class="i">X</tspan><tspan class="s" dy="-10">2</tspan><tspan class="s i" dx="-10" dy="16">i</tspan></text>
<text x="793" y="971">√<tspan class="i" text-decoration="overline">X</tspan></text>
<text x="866" y="930"><tspan class="i">δ</tspan> = 0</text>
<text x="450" y="847"><tspan class="i">λ</tspan> → ∞</text>
<text x="402" y="1001"><tspan class="i">μ</tspan> = 1</text>
<text x="606" y="980"><tspan class="i">λ</tspan>(<tspan class="i">X</tspan> − <tspan class="i">μ</tspan>)<tspan class="s" dy="-10">2</tspan><tspan dy="10">/(</tspan><tspan class="i">μ</tspan><tspan class="s" dy="-10">2</tspan><tspan class="i" dy="10">X</tspan>)</text>
<text x="330" y="679"><tspan class="i">X</tspan><tspan class="s" dy="5">1</tspan></text>
<line class="fr" x1="312" y1="687" x2="347" y2="687"/>
<text x="330" y="715"><tspan class="i">X</tspan><tspan class="s" dy="5">2</tspan></text>
<text x="210" y="841">zero truncate</text>
<text x="133" y="980">log |<tspan class="i">X</tspan>|/<tspan class="i">π</tspan></text>
<text x="107" y="1112"><tspan class="i">a</tspan> = 0</text>
<text x="107" y="1143"><tspan class="i">α</tspan> = 1</text>
<text x="223" y="1112"><tspan class="i">a</tspan> + <tspan class="i">αX</tspan></text>
<text x="367" y="1145"><tspan class="i">n</tspan> → ∞</text>
<text x="290" y="1257"><tspan class="i">n</tspan> = 1</text>
<text x="404" y="1262"><tspan class="i">X</tspan><tspan class="s" dy="-10">2</tspan></text>
<text x="218" y="1298"><tspan class="i">δ</tspan> = 0</text>
<text x="103" y="1430"><tspan class="i">γ</tspan> = 0</text>
<text x="437" y="1543"><tspan class="i">δ</tspan> → 0</text>
<text x="111" y="1697"><tspan class="i">γ</tspan> → 0</text>
<text x="646" y="1055"><tspan class="i">X</tspan><tspan class="s" dy="5">1</tspan><tspan dy="-5">/</tspan><tspan class="i">n</tspan><tspan class="s" dy="5">1</tspan></text>
<line class="fr" x1="606" y1="1064" x2="686" y2="1064"/>
<text x="646" y="1092"><tspan class="i">X</tspan><tspan class="s" dy="5">2</tspan><tspan dy="-5">/</tspan><tspan class="i">n</tspan><tspan class="s" dy="5">2</tspan></text>
<text x="712" y="1150"><tspan class="i">n</tspan><tspan class="s" dy="5">1</tspan><tspan class="i" dy="-5">X</tspan></text>
<text x="680" y="1184"><tspan class="i">n</tspan><tspan class="s" dy="5">2</tspan><tspan dy="-5"> → ∞</tspan></text>
<text x="862" y="1110"><tspan class="i">α</tspan> = 2</text>
<text x="862" y="1237"><tspan class="i">n</tspan> = 2</text>
<text x="705" y="1215">2</text>
<line class="fr" x1="697" y1="1225" x2="714" y2="1225"/>
<text x="705" y="1251" class="i">α</text>
<text x="760" y="1235"><tspan style="font-size:34px">∑</tspan> <tspan class="i">X</tspan><tspan class="s i" dy="5">i</tspan></text>
<text x="768" y="1268">(iid)</text>
<text x="962" y="1121">2<tspan class="i">X</tspan>/<tspan class="i">α</tspan></text>
<text x="1106" y="1102"><tspan class="i">α</tspan> = 2</text>
<text x="1175" y="1068"><tspan class="i">n</tspan> even</text>
<text x="984" y="1255"><tspan style="font-size:34px">∑</tspan> <tspan class="i">X</tspan><tspan class="s i" dy="5">i</tspan></text>
<text class="st" x="1144" y="1174"><tspan class="i">α</tspan> = <tspan class="i">α</tspan></text>
<path class="vec" d="M1145,1155 H1159 M1154,1151.5 L1159,1155 L1154,1158.5"/>
<text x="1083" y="1234"><tspan class="i">n</tspan> = 1</text>
<text x="1320" y="1248"><tspan style="font-size:34px">∑</tspan> <tspan class="i">X</tspan><tspan class="s i" dy="5">i</tspan><tspan dy="2"> (iid)</tspan></text>
<text x="1103" y="943"><tspan class="i">n</tspan> = 2<tspan class="i">β</tspan></text>
<text x="1020" y="968"><tspan class="i">α</tspan> = 2</text>
<text x="1203" y="989">2<tspan class="i">X</tspan>/<tspan class="i">α</tspan></text>
<text x="1126" y="1011"><tspan class="i">n</tspan> = 2<tspan class="i">β</tspan></text>
<text x="1288" y="1041"><tspan class="i">β</tspan> = <tspan class="i">n</tspan></text>
<text x="1404" y="962"><tspan class="i">X</tspan><tspan class="s" dy="5">1</tspan><tspan dy="-5">/</tspan><tspan class="i">X</tspan><tspan class="s" dy="5">2</tspan></text>
<text x="1408" y="992"><tspan class="i">α</tspan> = 1</text>
<text x="1579" y="823"><tspan class="i">X</tspan><tspan class="s" dy="5">1</tspan></text>
<line class="fr" x1="1526" y1="835" x2="1632" y2="835"/>
<text x="1579" y="859"><tspan class="i">X</tspan><tspan class="s" dy="5">1</tspan><tspan dy="-5"> + </tspan><tspan class="i">X</tspan><tspan class="s" dy="5">2</tspan></text>
<text x="1582" y="949" class="i">X</text>
<line class="fr" x1="1545" y1="961" x2="1618" y2="961"/>
<text x="1582" y="986">1 − <tspan class="i">X</tspan></text>
<text x="1467" y="828"><tspan class="i">γ</tspan> = 1</text>
<text x="1288" y="839">1/<tspan class="i">X</tspan></text>
<text x="1262" y="794">log <tspan class="i">X</tspan></text>
<text x="1358" y="705"><tspan class="i">β</tspan> → ∞</text>
<text x="1748" y="918"><tspan class="i">β</tspan> = <tspan class="i">γ</tspan> = 1</text>
<text x="1752" y="957"><tspan class="i">β</tspan> = <tspan class="i">γ</tspan> = </text>
<text x="1814" y="946" class="s">1</text>
<line class="fr" x1="1808" y1="950" x2="1820" y2="950"/>
<text x="1814" y="966" class="s">2</text>
<text x="1545" y="1157"><tspan class="i">X</tspan><tspan class="s" dy="5">(</tspan><tspan class="s i">r</tspan><tspan class="s">)</tspan></text>
<text x="1526" y="1189"><tspan class="i">β</tspan> = <tspan class="i">r</tspan></text>
<text x="1468" y="1221"><tspan class="i">γ</tspan> = <tspan class="i">n</tspan> − <tspan class="i">r</tspan> + 1</text>
<text x="1663" y="1186"><tspan class="i">γ</tspan> = 0</text>
<text x="1716" y="1310">log[1−(log <tspan class="i">X</tspan>)(log <tspan class="i">κ</tspan>)/<tspan class="i">δ</tspan>]</text>
<line class="fr" x1="1577" y1="1321" x2="1858" y2="1321"/>
<text x="1716" y="1345">log <tspan class="i">κ</tspan></text>
<text x="1690" y="1465">[log(1−log(1−<tspan class="i">X</tspan>))/<tspan class="i">λ</tspan>]<tspan class="s" dy="-11">1/</tspan><tspan class="s i">κ</tspan></text>
<text x="1320" y="1380">log[1+(<tspan class="i">X</tspan>/(1−<tspan class="i">X</tspan>))<tspan class="s" dy="-11">1/</tspan><tspan class="s i">κ</tspan><tspan dy="11">]/</tspan><tspan class="i">λ</tspan></text>
<text x="1335" y="1432"><tspan class="i">n</tspan>(1 − <tspan class="i">X</tspan><tspan class="s" dy="5">(</tspan><tspan class="s i">n</tspan><tspan class="s">)</tspan><tspan dy="-5">)</tspan></text>
<text x="1362" y="1460"><tspan class="i">n</tspan> → ∞</text>
<text x="1135" y="1336"><tspan class="i">β</tspan> = 1</text>
<text x="1171" y="1473">−<tspan class="i">α</tspan> log <tspan class="i">X</tspan></text>
<text x="1046" y="1423">|<tspan class="i">X</tspan>|</text>
<text x="1082" y="1453"><tspan class="i">α</tspan><tspan class="s" dy="5">1</tspan><tspan dy="-5"> = </tspan><tspan class="i">α</tspan><tspan class="s" dy="5">2</tspan></text>
<text x="954" y="1573"><tspan class="i">X</tspan><tspan class="s" dy="5">1</tspan><tspan dy="-5"> − </tspan><tspan class="i">X</tspan><tspan class="s" dy="5">2</tspan></text>
<text x="940" y="1411"><tspan class="i">α</tspan> = 1</text>
<text x="940" y="1444"><tspan class="i">κ</tspan> → 0</text>
<text x="1097" y="1591"><tspan class="i">α</tspan><tspan class="s" dy="5">1</tspan><tspan dy="-5"> = </tspan><tspan class="i">α</tspan><tspan class="s" dy="5">2</tspan></text>
<text x="1192" y="1614"><tspan class="i">c</tspan> = 2</text>
<text x="1144" y="1643"><tspan class="i">b</tspan> = <tspan class="i">α</tspan>/2</text>
<text x="1079" y="1666"><tspan class="i">a</tspan> = 0</text>
<text x="1009" y="1717"><tspan class="i">λX</tspan><tspan class="s" dy="-11">−1/</tspan><tspan class="s i">κ</tspan></text>
<text x="1022" y="1792">1</text>
<line class="fr" x1="1013" y1="1802" x2="1031" y2="1802"/>
<text x="1022" y="1828" class="i">λ</text>
<text x="1050" y="1815" style="font-size:50px">(</text>
<text x="1100" y="1792">1 − <tspan class="i">X</tspan></text>
<line class="fr" x1="1063" y1="1802" x2="1136" y2="1802"/>
<text x="1097" y="1828" class="i">X</text>
<text x="1147" y="1815" style="font-size:50px">)</text>
<text x="1180" y="1780" class="s">1/<tspan class="i">κ</tspan></text>
<text x="1241" y="1875">⌊10<tspan class="s i" dy="-11">X</tspan><tspan dy="11">⌋</tspan></text>
<text x="1355" y="1722"><tspan class="i">X</tspan><tspan class="s" dy="5">1</tspan><tspan dy="-5"> − </tspan><tspan class="i">X</tspan><tspan class="s" dy="5">2</tspan></text>
<text x="1405" y="1646"><tspan class="i">a</tspan> = 0</text>
<text x="1430" y="1675"><tspan class="i">b</tspan> = 1</text>
<text x="1659" y="1753"><tspan class="i">a</tspan> + (<tspan class="i">b</tspan> − <tspan class="i">a</tspan>)<tspan class="i">X</tspan></text>
<text x="1613" y="1518"><tspan class="i">X</tspan><tspan class="s" dy="5">(</tspan><tspan class="s i">n</tspan><tspan class="s">)</tspan></text>
<text x="1502" y="1566"><tspan class="i">X</tspan><tspan class="s" dy="-11">1/</tspan><tspan class="s i">β</tspan></text>
<text x="1636" y="1630"><tspan class="i">β</tspan> = 1</text>
<text x="1814" y="1598"><tspan class="i">γ</tspan> = 1</text>
<text x="1828" y="1753"><tspan class="i">α</tspan> = 1</text>
<text x="1616" y="1938"><tspan class="i">n</tspan> = 1</text>
<text x="1699" y="1976"><tspan class="i">n</tspan> = 1</text>
<text x="1823" y="1976"><tspan class="i">κ</tspan> → 0</text>
<text x="1572" y="1995"><tspan class="i">a</tspan> = 1/2</text>
<text x="1566" y="2027"><tspan class="i">b</tspan> = 1</text>
<text x="1470" y="2076"><tspan class="i">n</tspan> = 2</text>
<text x="1409" y="1944"><tspan class="i">a</tspan> = −1</text>
<text x="1396" y="1971"><tspan class="i">b</tspan> = 1</text>
<text x="1400" y="2000"><tspan class="i">m</tspan> = 0</text>
<text x="658" y="1835"><tspan class="i">β</tspan> = 2</text>
<text x="707" y="1700"><tspan class="i">β</tspan> = 1</text>
<text x="793" y="1829"><tspan class="i">X</tspan><tspan class="s" dy="-11">1/</tspan><tspan class="s i">β</tspan></text>
<text x="847" y="1704">log(<tspan class="i">X</tspan>/<tspan class="i">λ</tspan>)</text>
<text x="695" y="1600"><tspan class="i">X</tspan><tspan class="s" dy="-10">2</tspan></text>
<text x="575" y="1681">√<tspan class="i" text-decoration="overline">X</tspan></text>
<text x="450" y="1681"><tspan class="i">δ</tspan> = 2/<tspan class="i">α</tspan></text>
<text x="471" y="1708"><tspan class="i">γ</tspan> = 0</text>
<text x="589" y="1532"><tspan class="i">δ</tspan> = <tspan class="i">κ</tspan> → 0</text>
<text x="593" y="1561"><tspan class="i">α</tspan> = 1/<tspan class="i">γ</tspan></text>
<text x="562" y="1371">Mixture</text>
<text class="st" x="664" y="1408"><tspan class="i">α</tspan> = <tspan class="i">α</tspan></text>
<path class="vec" d="M665,1389 H679 M674,1385.5 L679,1389 L674,1392.5"/>
<text x="632" y="1298"><tspan class="i">α</tspan> = 1, <tspan class="i">X</tspan><tspan class="s" dy="5">1</tspan><tspan dy="-5">/</tspan><tspan class="i">X</tspan><tspan class="s" dy="5">2</tspan></text>
<text x="862" y="1953"><tspan class="i">γ</tspan> = 0</text>
<text x="868" y="1986"><tspan class="i">X</tspan> + <tspan class="i">δ</tspan></text>
<text x="706" y="1969">log <tspan class="i">X</tspan></text>
<text x="988" y="1962"><tspan class="i">κ</tspan> = 1</text>
<text x="1084" y="1962"><tspan class="i">κ</tspan> = 1</text>
<text x="1199" y="2044">log <tspan class="i">X</tspan></text>
</g>

<!-- key -->
<g id="legend">
<rect class="n" x="40" y="1814" width="579" height="360"/>
<g class="G">
<text x="57" y="1846" class="b">Properties:</text>
<text x="57" y="1877">C: Convolution</text>
<text x="57" y="1908">F: Forgetfulness</text>
<text x="57" y="1940">I: Inverse</text>
<text x="57" y="1971">L: Linear combination</text>
<text x="57" y="2002">M: Minimum</text>
<text x="57" y="2033">P: Product</text>
<text x="57" y="2064">R: Residual</text>
<text x="57" y="2096">S: Scaling</text>
<text x="57" y="2159">X: Maximum</text>
<text x="332" y="1877">L ⇒ C</text>
<text x="332" y="1908">L ⇒ S</text>
<text x="332" y="1940">F ⇒ R</text>
<text x="332" y="2027" class="b">Relationships:</text>
<text x="416" y="2068">Special cases</text>
<text x="416" y="2099">Transformations</text>
<text x="416" y="2130">Limiting</text>
<text x="416" y="2161">Bayesian</text>
</g>
<text x="57" y="2128" class="K">V: Variate generation</text>
<g class="e">
<path d="M332,2060 L402,2060"/>
<path d="M332,2091 L402,2091"/>
<path class="d" d="M332,2122 L402,2122"/>
<path class="o" d="M332,2153 L402,2153"/>
</g>
</g>
</svg>
